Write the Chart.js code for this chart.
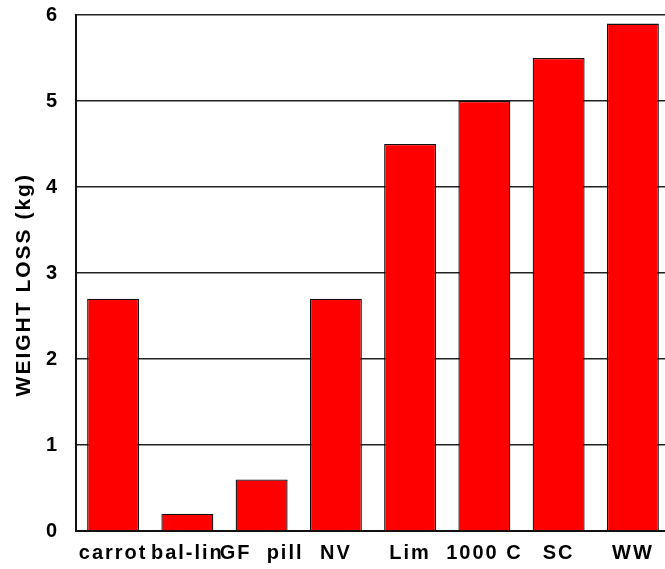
<!DOCTYPE html>
<html>
<head>
<meta charset="utf-8">
<script src="https://cdn.jsdelivr.net/npm/chart.js@4"></script>
<style>
  html, body { margin: 0; padding: 0; background: #fff; overflow: hidden; }
  #chart { display: block; }
</style>
</head>
<body>
<!-- plot runs slightly past the right edge of the window, like the original -->
<canvas id="chart" width="670" height="569"></canvas>
<script>
const categories = ["carrot", "bal-lin", "GF  pill", "NV", "Lim", "1000 C", "SC", "WW"];
const weightLoss = [2.7, 0.2, 0.6, 2.7, 4.5, 5.0, 5.5, 5.9];
const yTicks = [0, 1, 2, 3, 4, 5, 6];

const FONT = "'Liberation Sans', Arial, sans-serif";

// the original uses a wide-spaced bitmap font
const spacing = {
  id: "spacing",
  beforeLayout: c => { c.ctx.letterSpacing = "2px"; },
  beforeDraw: c => { c.ctx.letterSpacing = "2px"; }
};

const ctx = document.getElementById("chart").getContext("2d");

new Chart(ctx, {
  type: "bar",
  data: {
    labels: categories,
    datasets: [{
      data: weightLoss,
      backgroundColor: "#ff0000",
      borderColor: "#111",
      borderWidth: 1.3,
      barPercentage: 0.7,
      categoryPercentage: 1.0
    }]
  },
  plugins: [spacing],
  options: {
    responsive: false,
    animation: false,
    layout: { padding: { top: 15, right: 0, bottom: 0, left: 0 } },
    plugins: {
      legend: { display: false },
      tooltip: { enabled: false }
    },
    scales: {
      x: {
        grid: { display: false, drawTicks: false },
        border: { display: true, color: "#111", width: 2 },
        ticks: {
          color: "#000",
          padding: 10,
          maxRotation: 0,
          autoSkip: false,
          font: { family: FONT, size: 20, weight: "bold" }
        },
        afterFit: s => {
          s.height = 38;
          s.paddingLeft = 0;
          s.paddingRight = 0;
        }
      },
      y: {
        min: 0,
        max: 6,
        afterBuildTicks: s => { s.ticks = yTicks.map(v => ({ value: v })); },
        grid: { color: "#222", lineWidth: 1.6, drawTicks: false },
        border: { display: true, color: "#111", width: 2 },
        ticks: {
          color: "#000",
          padding: 17,
          font: { family: FONT, size: 20, weight: "bold" }
        },
        title: {
          display: true,
          text: "WEIGHT LOSS (kg)   ",
          color: "#000",
          padding: { top: 12, bottom: 0 },
          font: { family: FONT, size: 21, weight: "bold" }
        },
        afterFit: s => {
          s.width = 76;
          s.paddingTop = 0;
          s.paddingBottom = 0;
        }
      }
    }
  }
});
</script>
</body>
</html>
